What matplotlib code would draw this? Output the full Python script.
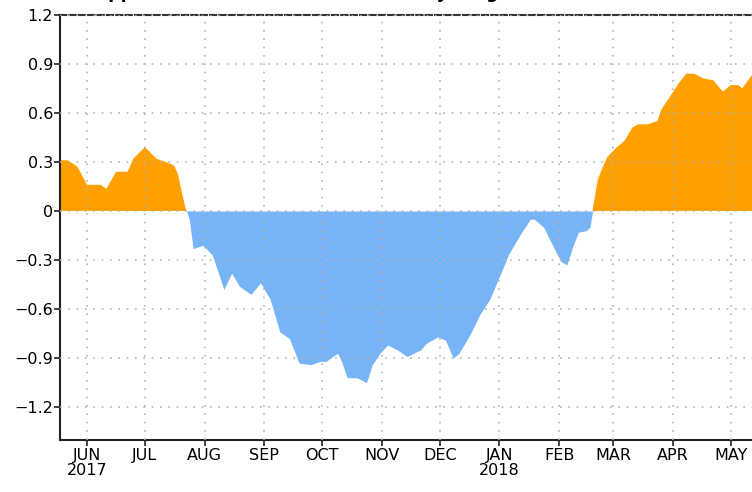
import matplotlib.pyplot as plt
import numpy as np
import pandas as pd

# Anomalie quotidienne, juin 2017 - mai 2018
dates = [
    "2017-06-01", "2017-06-05", "2017-06-10", "2017-06-15", "2017-06-22", "2017-06-25",
    "2017-06-30", "2017-07-06", "2017-07-09", "2017-07-15", "2017-07-21", "2017-07-30",
    "2017-08-01", "2017-08-05", "2017-08-07", "2017-08-09", "2017-08-14", "2017-08-19",
    "2017-08-25", "2017-08-29", "2017-09-02", "2017-09-08", "2017-09-13", "2017-09-18",
    "2017-09-23", "2017-09-28", "2017-10-03", "2017-10-09", "2017-10-14", "2017-10-17",
    "2017-10-23", "2017-10-25", "2017-10-28", "2017-11-02", "2017-11-07", "2017-11-10",
    "2017-11-14", "2017-11-18", "2017-11-23", "2017-11-28", "2017-12-05", "2017-12-08",
    "2017-12-14", "2017-12-18", "2017-12-22", "2017-12-25", "2017-12-31", "2018-01-05",
    "2018-01-10", "2018-01-15", "2018-01-20", "2018-01-26", "2018-01-31", "2018-02-02",
    "2018-02-07", "2018-02-12", "2018-02-16", "2018-02-19", "2018-02-22", "2018-02-25",
    "2018-03-01", "2018-03-03", "2018-03-05", "2018-03-07", "2018-03-09", "2018-03-12",
    "2018-03-17", "2018-03-21", "2018-03-25", "2018-03-28", "2018-04-02", "2018-04-07",
    "2018-04-09", "2018-04-13", "2018-04-18", "2018-04-22", "2018-04-26", "2018-05-01",
    "2018-05-06", "2018-05-11", "2018-05-15", "2018-05-19", "2018-05-21", "2018-05-26",
    "2018-05-30",
]
anomalie = [
    0.31, 0.31, 0.27, 0.16, 0.16, 0.135,
    0.24, 0.24, 0.32, 0.39, 0.32, 0.28,
    0.23, 0.02, -0.05, -0.23, -0.21, -0.27,
    -0.48, -0.38, -0.46, -0.51, -0.44, -0.54,
    -0.74, -0.78, -0.93, -0.94, -0.92, -0.92,
    -0.87, -0.92, -1.02, -1.02, -1.05, -0.94,
    -0.87, -0.82, -0.85, -0.89, -0.85, -0.81,
    -0.77, -0.79, -0.90, -0.87, -0.75, -0.63,
    -0.54, -0.40, -0.26, -0.14, -0.05, -0.05,
    -0.10, -0.22, -0.31, -0.33, -0.22, -0.13,
    -0.12, -0.10, 0.05, 0.19, 0.25, 0.33,
    0.39, 0.43, 0.51, 0.53, 0.53, 0.55,
    0.62, 0.69, 0.78, 0.84, 0.84, 0.81,
    0.80, 0.73, 0.77, 0.77, 0.75, 0.83,
    0.83,
]
mois = ["JUN\n2017", "JUL", "AUG", "SEP", "OCT", "NOV", "DEC",
        "JAN\n2018", "FEB", "MAR", "APR", "MAY"]
graduations_y = [-1.2, -0.9, -0.6, -0.3, 0, 0.3, 0.6, 0.9, 1.2]

x = pd.to_datetime(dates)
y = np.array(anomalie)

fig = plt.figure(figsize=(7.52, 4.92), dpi=100)
ax = fig.add_axes([0.080, 0.106, 0.93, 0.864])

ax.fill_between(x, 0, y, where=y >= 0, interpolate=True, color="#FFA000", linewidth=0)
ax.fill_between(x, 0, y, where=y <= 0, interpolate=True, color="#76B4F6", linewidth=0)

ax.set_xlim(pd.Timestamp("2017-06-01"), pd.Timestamp("2018-05-30"))
ax.set_ylim(-1.4, 1.2)

# graduations au milieu de chaque mois
ticks = pd.date_range("2017-06-01", periods=len(mois), freq="MS") + pd.Timedelta(days=14)
ax.set_xticks(ticks)
ax.set_xticklabels(mois)
ax.set_yticks(graduations_y)
ax.set_yticklabels(["0" if v == 0 else f"{v:.1f}".replace("-", "\u2212") for v in graduations_y])

for lab in ax.get_xticklabels() + ax.get_yticklabels():
    lab.set_family("DejaVu Sans")
    lab.set_fontsize(11.5)
    lab.set_linespacing(0.95)

ax.tick_params(axis="both", direction="out", length=4, width=1.2, color="#222222")
ax.tick_params(axis="x", pad=2)
ax.tick_params(axis="y", pad=1)

ax.grid(True, linestyle=(0, (1, 4)), color="#b4b4b4", linewidth=1.2)
ax.set_axisbelow(False)

ax.spines["right"].set_visible(False)
ax.spines["top"].set_linestyle((0, (3, 1.5)))
ax.spines["top"].set_color("#333333")
ax.spines["top"].set_linewidth(1.5)
for s in ["left", "bottom"]:
    ax.spines[s].set_linewidth(1.5)
    ax.spines[s].set_color("#222222")

# titre coupé en haut de l'image
fig.text(0.125, 1.0 + 2 / 492, "Upper Ocean Heat Content Anomaly (deg C)",
         fontsize=12.5, fontweight="bold", ha="left", va="baseline")

plt.savefig("out.png", dpi=100)
plt.close()
